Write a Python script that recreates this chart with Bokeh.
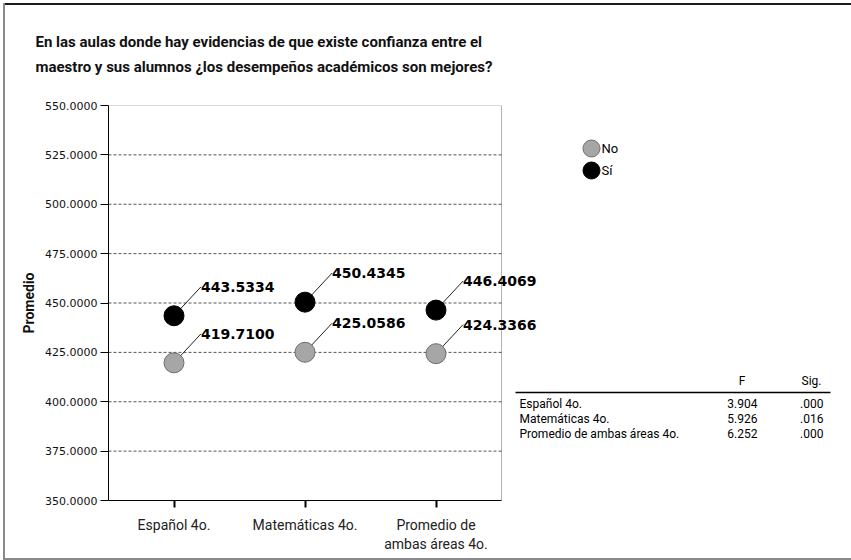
from bokeh.plotting import figure
from bokeh.models import (Range1d, FixedTicker, Title, BoxAnnotation, ColumnDataSource,
                          NumeralTickFormatter)
from bokeh.embed import file_html
from bokeh.resources import INLINE
from bokeh.core.properties import value

# ---------------- data ----------------
title_lines = ["En las aulas donde hay evidencias de que existe confianza entre el",
               "maestro y sus alumnos ¿los desempeños académicos son mejores?"]
categories = ["Español 4o.", "Matemáticas 4o.", "Promedio de\nambas áreas 4o."]
series_names = ["No", "Sí"]
no_values = [419.7100, 425.0586, 424.3366]
si_values = [443.5334, 450.4345, 446.4069]
y_ticks = [350, 375, 400, 425, 450, 475, 500, 525, 550]
y_label = "Promedio"
table_header = ["F", "Sig."]
table_rows = ["Español 4o.", "Matemáticas 4o.", "Promedio de ambas áreas 4o."]
table_F = ["3.904", "5.926", "6.252"]
table_sig = [".000", ".016", ".000"]

# ---------------- layout constants (pixels) ----------------
FONT = "Roboto"
W, H = 851, 560
FL, FT, FB = 108, 105, 500          # frame left / top / bottom
PX_PER_CAT = 131
X0, X1 = 0.5, 3.5
Y0, Y1 = 350, 550
LEAD_DX_PX, LEAD_DY_PX = 27, 29


def px_x(px):
    return X0 + (px - FL) / PX_PER_CAT


def px_y(py):
    return Y1 - (py - FT) * (Y1 - Y0) / (FB - FT)


xs = list(range(1, len(categories) + 1))

p = figure(width=W, height=H,
           x_range=Range1d(X0, px_x(W)), y_range=Range1d(Y0, Y1),
           output_backend="svg", toolbar_location=None,
           min_border_left=FL, min_border_right=0, min_border_top=FT,
           min_border_bottom=H - FB)
p.background_fill_color = "white"
p.border_fill_color = None
p.outline_line_color = None
p.title.visible = False
p.grid.visible = False
# outer picture frame (top dark, left and bottom grey) as inset shadows behind the canvas
p.styles = {
    "background-color": "white",
    "box-shadow": ("inset 3px 0 0 0 white, inset 0 3px 0 0 white, "
                   "inset 5px 0 0 0 #8a8a8a, inset 0 5px 0 0 #1a1a1a, "
                   "inset 0 -2px 0 0 #8a8a8a"),
}

# visible plot box
p.add_layout(BoxAnnotation(left=X0, right=X1, bottom=Y0, top=Y1, fill_alpha=0,
                           line_color="black", line_width=1, level="overlay"))

# dashed horizontal grid
inner = y_ticks[1:-1]
p.segment(x0=[X0] * len(inner), y0=inner, x1=[X1] * len(inner), y1=inner,
          line_color="#555555", line_dash="3 2", line_width=1)

p.yaxis.ticker = FixedTicker(ticks=y_ticks)
p.yaxis.formatter = NumeralTickFormatter(format="0.0000")
p.yaxis.major_tick_out = 8
p.yaxis.major_tick_in = 0
p.yaxis.minor_tick_line_color = None
p.yaxis.major_label_standoff = 3
p.yaxis.major_label_text_font = "DejaVu Sans"
p.yaxis.major_label_text_font_size = "11px"
p.yaxis.major_label_text_color = "#111111"
p.yaxis.axis_line_color = "black"
p.yaxis.axis_label = y_label
p.yaxis.axis_label_text_font = FONT
p.yaxis.axis_label_text_font_style = "bold"
p.yaxis.axis_label_text_font_size = "14px"
p.yaxis.axis_label_text_color = "#111111"
p.yaxis.axis_label_standoff = 5

p.xaxis.ticker = FixedTicker(ticks=xs)
p.xaxis.bounds = (X0, X1)
p.xaxis.major_label_overrides = {x: c for x, c in zip(xs, categories)}
p.xaxis.major_tick_out = 7
p.xaxis.major_tick_in = 0
p.xaxis.major_tick_line_width = 2
p.xaxis.minor_tick_line_color = None
p.xaxis.major_label_standoff = 9
p.xaxis.major_label_text_font = FONT
p.xaxis.major_label_text_font_size = "14px"
p.xaxis.major_label_text_color = "#222222"
p.xaxis.axis_line_color = "black"

dx = LEAD_DX_PX / PX_PER_CAT
dy = LEAD_DY_PX * (Y1 - Y0) / (FB - FT)

colors = {"No": ("#a6a6a6", "#6e6e6e"), "Sí": ("#000000", "#000000")}
for name, vals in zip(series_names, [no_values, si_values]):
    fill, line = colors[name]
    src = ColumnDataSource(dict(x=xs, y=vals,
                                x1=[x + dx for x in xs], y1=[v + dy for v in vals],
                                lab=["%.4f" % v for v in vals]))
    p.segment(x0="x", y0="y", x1="x1", y1="y1", source=src, line_color="#222222", line_width=1)
    p.scatter(x="x", y="y", source=src, size=20, marker="circle",
              fill_color=fill, line_color=line, line_width=1)
    p.text(x="x1", y="y1", text="lab", source=src, x_offset=0,
           text_baseline="middle", text_align="left",
           text_font=value("DejaVu Sans"), text_font_style="bold",
           text_font_size="14px", text_color="black")

# two-line title
p.add_layout(Title(text="\n".join(title_lines), align="left", offset=35 - FL, standoff=58,
                   text_font=FONT, text_font_style="bold", text_font_size="15px",
                   text_line_height=1.4, text_color="#111111"), "above")

# legend
LEG_X, LEG_Y, LEG_STEP = 591, 148, 22
leg_src = ColumnDataSource(dict(x=[px_x(LEG_X)] * 2,
                                y=[px_y(LEG_Y + i * LEG_STEP) for i in range(2)],
                                fill=[colors[n][0] for n in series_names],
                                line=[colors[n][1] for n in series_names],
                                lab=series_names))
p.scatter(x="x", y="y", source=leg_src, size=17, marker="circle",
          fill_color="fill", line_color="line")
p.text(x="x", y="y", text="lab", source=leg_src, x_offset=10, text_baseline="middle",
       text_font=value(FONT), text_font_size="13px", text_color="black")

# statistics table
HEAD_Y, ROW_Y0, ROW_STEP = 380, 403, 15
COL_NAME, COL_F, COL_SIG = 519, 757, 823
tkw = dict(text_baseline="middle", text_font=value(FONT), text_font_size="12px",
           text_color="black")
p.text(x=[px_x(COL_F - 12), px_x(COL_SIG - 2)], y=[px_y(HEAD_Y)] * 2, text=table_header,
       text_align="right", **tkw)
p.segment(x0=[px_x(515)], y0=[px_y(392)], x1=[px_x(830)], y1=[px_y(392)],
          line_color="black", line_width=1.5)
rys = [px_y(ROW_Y0 + i * ROW_STEP) for i in range(len(table_rows))]
p.text(x=[px_x(COL_NAME)] * 3, y=rys, text=table_rows, text_align="left", **tkw)
p.text(x=[px_x(COL_F)] * 3, y=rys, text=table_F, text_align="right", **tkw)
p.text(x=[px_x(COL_SIG)] * 3, y=rys, text=table_sig, text_align="right", **tkw)

open("out.html", "w").write(file_html(p, INLINE))
